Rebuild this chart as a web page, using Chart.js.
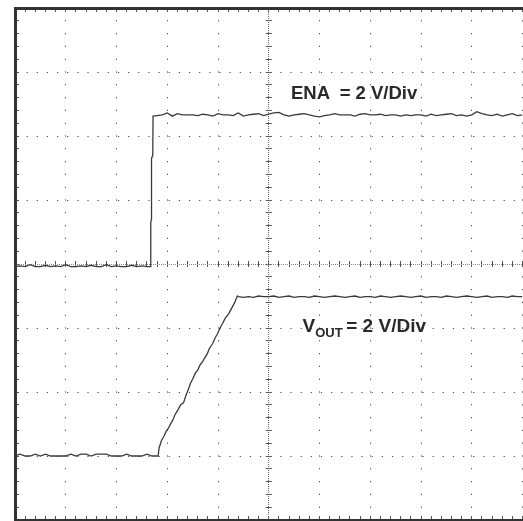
<!DOCTYPE html>
<html>
<head>
<meta charset="utf-8">
<script src="https://cdn.jsdelivr.net/npm/chart.js@4.4.1/dist/chart.umd.min.js"></script>
<style>
  html, body { margin: 0; padding: 0; background: #ffffff; overflow: hidden; }
  #wrap { position: relative; width: 523px; height: 521px; }
  .lbl { position: absolute; font-family: 'Liberation Sans', Arial, sans-serif; font-weight: bold; color: #2a2a2a; line-height: 1; white-space: pre; }
  .sub { font-size: 13px; position: relative; top: 5.6px; }
</style>
</head>
<body>
<div id="wrap">
  <canvas id="c"></canvas>
  <div class="lbl" id="ena" style="left:291px; top:83.6px; font-size:18.5px;">ENA  = 2 V/Div</div>
  <div class="lbl" id="vout" style="left:302.5px; top:315.6px; font-size:19px;">V<span class="sub">OUT </span>= 2 V/Div</div>
</div>
<script>
// Time axis in screen divisions (10 div), vertical axis in divisions (8 div, 2 V/div)
const enaT = [0,0.1,0.2,0.3,0.4,0.5,0.6,0.7,0.8,0.9,1.0,1.1,1.2,1.3,1.4,1.5,1.6,1.7,1.8,1.9,2.0,2.1,2.2,2.3,2.4,2.5,2.6,2.675,
  2.675,2.69,2.69,2.715,2.72,
  2.8,2.9,3.0,3.1,3.2,3.3,3.4,3.5,3.6,3.7,3.8,3.9,4.0,4.1,4.2,4.3,4.4,4.5,4.6,4.7,4.8,4.9,5.0,5.1,5.2,5.3,5.4,5.5,5.6,5.7,5.8,5.9,
  6.0,6.1,6.2,6.3,6.4,6.5,6.6,6.7,6.8,6.9,7.0,7.1,7.2,7.3,7.4,7.5,7.6,7.7,7.8,7.9,8.0,8.1,8.2,8.3,8.4,8.5,8.6,8.7,8.8,8.9,
  9.0,9.1,9.2,9.3,9.4,9.5,9.6,9.7,9.8,9.9,10.0];
const enaV = [-0.04,-0.03,-0.04,-0.01,-0.04,-0.04,-0.02,-0.04,-0.03,-0.04,-0.01,-0.04,-0.04,-0.03,-0.04,-0.02,-0.04,-0.04,-0.01,-0.04,-0.03,-0.04,-0.04,-0.02,-0.04,-0.03,-0.04,-0.04,
  0.65,0.70,1.65,1.70,2.31,
  2.32,2.33,2.36,2.31,2.35,2.33,2.33,2.33,2.32,2.34,2.33,2.31,2.35,2.33,2.33,2.32,2.36,2.31,2.33,2.34,2.35,2.32,2.34,2.36,2.37,2.33,2.31,2.33,2.34,2.35,2.33,2.31,
  2.30,2.32,2.33,2.35,2.33,2.33,2.33,2.31,2.34,2.35,2.33,2.33,2.34,2.32,2.33,2.33,2.31,2.33,2.32,2.33,2.33,2.31,2.34,2.32,2.33,2.34,2.35,2.32,2.33,2.31,
  2.33,2.38,2.35,2.33,2.32,2.34,2.31,2.33,2.35,2.32,2.33];

const voutT = [0,0.1,0.2,0.3,0.4,0.5,0.6,0.7,0.8,0.9,1.0,1.1,1.2,1.3,1.4,1.5,1.6,1.7,1.8,1.9,2.0,2.1,2.2,2.3,2.4,2.5,2.6,2.7,2.8,2.82,
  2.84,2.87,2.89,2.93,2.975,3.02,3.07,3.11,3.15,3.21,3.265,3.32,3.37,3.42,3.46,3.50,3.55,3.60,3.645,3.70,3.745,3.79,3.83,3.89,3.94,3.99,4.04,4.09,4.14,4.21,4.27,4.33,4.38,
  4.4,4.5,4.6,4.7,4.8,4.9,5.0,5.1,5.2,5.3,5.4,5.5,5.6,5.7,5.8,5.9,6.0,6.1,6.2,6.3,6.4,6.5,6.6,6.7,6.8,6.9,
  7.0,7.1,7.2,7.3,7.4,7.5,7.6,7.7,7.8,7.9,8.0,8.1,8.2,8.3,8.4,8.5,8.6,8.7,8.8,8.9,9.0,9.1,9.2,9.3,9.4,9.5,9.6,9.7,9.8,9.9,10.0];
const voutV = [-3.0,-2.97,-3.0,-3.0,-2.97,-3.0,-2.97,-3.0,-3.0,-3.0,-3.0,-2.97,-3.0,-2.97,-2.97,-3.0,-2.97,-2.97,-2.97,-3.0,-3.0,-3.0,-2.97,-3.0,-3.0,-3.0,-2.97,-3.0,-3.0,-3.0,
  -2.87,-2.80,-2.75,-2.70,-2.62,-2.57,-2.49,-2.44,-2.36,-2.28,-2.20,-2.17,-2.05,-1.95,-1.86,-1.80,-1.71,-1.66,-1.58,-1.52,-1.46,-1.40,-1.32,-1.25,-1.16,-1.09,-1.00,-0.93,-0.85,-0.78,-0.69,-0.60,-0.50,
  -0.51,-0.52,-0.51,-0.52,-0.50,-0.51,-0.51,-0.50,-0.52,-0.51,-0.50,-0.52,-0.51,-0.51,-0.52,-0.50,-0.51,-0.52,-0.51,-0.50,-0.51,-0.52,-0.51,-0.50,-0.52,-0.51,
  -0.51,-0.52,-0.50,-0.51,-0.52,-0.51,-0.50,-0.51,-0.52,-0.51,-0.50,-0.52,-0.51,-0.51,-0.52,-0.50,-0.51,-0.52,-0.51,-0.50,-0.51,-0.52,-0.51,-0.50,-0.52,-0.51,-0.51,-0.52,-0.50,-0.51,-0.51];

const xDivs = [0, 10];
const yDivs = [-4, 4];
const traceColor = '#3a3a3a';

const toPts = (xs, ys) => xs.map((x, i) => ({x: x, y: ys[i]}));
const clear = 'rgba(0,0,0,0)';

const noTicks = { display: false };
const gridBase = { drawTicks: false, lineWidth: 1 };

new Chart(document.getElementById('c'), {
  type: 'scatter',
  data: {
    datasets: [
      { label: 'ENA', data: toPts(enaT, enaV), showLine: true, borderColor: traceColor, borderWidth: 1.3, pointRadius: 0, tension: 0, xAxisID: 'x', yAxisID: 'y' },
      { label: 'VOUT', data: toPts(voutT, voutV), showLine: true, borderColor: traceColor, borderWidth: 1.3, pointRadius: 0, tension: 0, xAxisID: 'x', yAxisID: 'y' }
    ]
  },
  options: {
    responsive: true,
    maintainAspectRatio: false,
    animation: false,
    events: [],
    layout: { padding: { left: 15, top: 8, right: 0.5, bottom: 1 } },
    plugins: { legend: { display: false }, tooltip: { enabled: false }, title: { display: false } },
    scales: {
      x: {
        type: 'linear', position: 'bottom', min: xDivs[0], max: xDivs[1],
        ticks: { display: false, stepSize: 1 },
        grid: Object.assign({}, gridBase, { color: c => (c.tick && (c.tick.value === 0 || c.tick.value === 5)) ? clear : '#4a4a4a' }),
        border: { display: true, width: 3, color: '#333333', dash: [1.2, 11.6], dashOffset: 0.6 }
      },
      y: {
        type: 'linear', position: 'left', min: yDivs[0], max: yDivs[1],
        ticks: { display: false, stepSize: 1 },
        grid: Object.assign({}, gridBase, { color: c => (c.tick && (c.tick.value === 0 || Math.abs(c.tick.value) === 4)) ? clear : '#4a4a4a' }),
        border: { display: true, width: 3, color: '#333333', dash: [1.2, 8.95], dashOffset: 0.6 }
      },
      xTop: {
        type: 'linear', position: 'top', min: xDivs[0], max: xDivs[1],
        ticks: { display: false, stepSize: 1 },
        grid: Object.assign({}, gridBase, { color: clear }),
        border: { display: true, width: 3, color: '#333333' }
      },
      xMinor: {
        type: 'linear', position: 'bottom', min: xDivs[0], max: xDivs[1],
        ticks: { display: false, stepSize: 0.2 },
        grid: Object.assign({}, gridBase, { color: '#555555' }),
        border: { display: false, dash: [4, 249, 6, 249, 4, 40] }
      },
      yMinor: {
        type: 'linear', position: 'left', min: yDivs[0], max: yDivs[1],
        ticks: { display: false, stepSize: 0.2 },
        grid: Object.assign({}, gridBase, { color: '#555555' }),
        border: { display: false, dash: [4, 246.75, 6, 400] }
      },
      xCenter: {
        type: 'linear', position: 'bottom', min: xDivs[0], max: xDivs[1],
        ticks: { display: false },
        afterBuildTicks: s => { s.ticks = [{ value: 5 }]; },
        grid: Object.assign({}, gridBase, { color: '#6a6a6a' }),
        border: { display: false, dash: [1, 1] }
      },
      yCenter: {
        type: 'linear', position: 'left', min: yDivs[0], max: yDivs[1],
        ticks: { display: false },
        afterBuildTicks: s => { s.ticks = [{ value: 0 }]; },
        grid: Object.assign({}, gridBase, { color: '#8a8a8a' }),
        border: { display: false, dash: [1, 1] }
      }
    }
  }
});
</script>
</body>
</html>
